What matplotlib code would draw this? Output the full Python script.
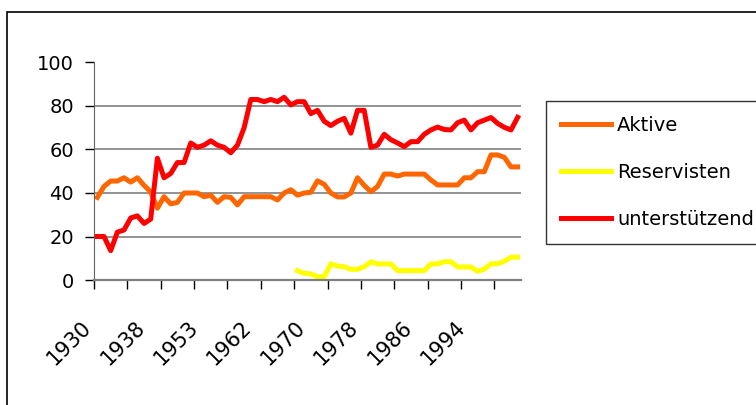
import numpy as np
import matplotlib.pyplot as plt
import matplotlib.transforms as mtransforms
from matplotlib.patches import Rectangle

# Jahre (Kategorien der x-Achse)
jahre = (list(range(1930, 1939)) + list(range(1946, 1953)) + [1953]
         + [1954, 1955, 1956, 1957, 1958, 1959, 1961] + list(range(1962, 2002)))

aktive = [38, 43, 45.5, 45.5, 47, 45, 47, 43.5, 40.5, 33,
          38.3, 35, 35.7, 40, 40, 40, 38.3, 39, 35.7, 38.3,
          38, 34.5, 38.3, 38.3, 38.3, 38.3, 38.3, 36.8, 40, 41.5,
          39, 40, 40.3, 45.6, 44, 40, 38.2, 38.2, 40, 47,
          43.5, 40.6, 43, 48.7, 48.7, 47.8, 48.7, 48.7, 48.7, 48.7,
          46, 43.7, 43.7, 43.7, 43.7, 47, 47, 49.8, 49.8, 57.5,
          57.5, 56.4, 52, 52]

reservisten = [np.nan] * 30 + [
    4.3, 3.1, 2.8, 1.5, 1.5, 7.4, 6.4, 6.1, 4.9, 4.9,
    6.1, 8.4, 7.4, 7.4, 7.4, 4.3, 4.3, 4.3, 4.3, 4.3,
    7.4, 7.4, 8.4, 8.4, 6, 6, 6, 4, 5, 7.4,
    7.5, 8.6, 10.5, 10.5]

unterstuetzend = [20, 20, 13.5, 22, 23, 28.5, 29.5, 26, 28, 56,
                  47, 49, 54, 54, 63, 61, 62, 64, 62, 61,
                  58.5, 62, 70, 83, 83, 82, 83, 82, 84, 80.5,
                  82, 82, 76.5, 78, 73, 71, 73, 74.3, 67.5, 78,
                  78, 61, 62, 67, 64.5, 63, 61.3, 63.6, 63.6, 67,
                  69, 70.3, 69.2, 69, 72.3, 73.5, 69, 72.3, 73.5, 74.7,
                  72, 70.2, 69, 74.8]

fig = plt.figure(figsize=(7.56, 4.05), dpi=100)
ax = fig.add_axes([94/756, 1 - 280/405, 427/756, 217.5/405])

x = np.arange(len(jahre))
lw = 3.6
ax.plot(x, aktive, color='#FF6600', lw=lw, label='Aktive', solid_joinstyle='round')
ax.plot(x, reservisten, color='#FFFF00', lw=lw, label='Reservisten', solid_joinstyle='round')
ax.plot(x, unterstuetzend, color='#FF0000', lw=lw, label='unterstützend', solid_joinstyle='round')

ax.set_xlim(-0.5, len(jahre) - 0.5)
ax.set_ylim(0, 100)
ax.set_yticks(range(0, 101, 20))
ax.tick_params(axis='y', labelsize=14, length=6.5, width=1, colors='black', pad=8)
ax.yaxis.grid(True, color='#808080', lw=1.2)
ax.get_ygridlines()[-1].set_visible(False)
ax.set_axisbelow(True)

lab_pos = np.arange(0, len(jahre), 8)
ax.set_xticks(lab_pos)
ax.set_xticklabels([str(jahre[i]) for i in lab_pos], rotation=45, ha='right',
                   va='center', rotation_mode='anchor', fontsize=15)
ax.tick_params(axis='x', which='major', length=0, pad=32)
# Beschriftungen etwas nach links versetzen
shift = mtransforms.ScaledTranslation(-9/100, 0, fig.dpi_scale_trans)
for t in ax.get_xticklabels():
    t.set_transform(t.get_transform() + shift)
ax.set_xticks(np.arange(-0.5, len(jahre), 5), minor=True)
ax.tick_params(axis='x', which='minor', length=6.5, width=1, color='black')

for s in ['top', 'right']:
    ax.spines[s].set_visible(False)
ax.spines['left'].set_color('#606060')
ax.spines['bottom'].set_color('#808080')
ax.spines['bottom'].set_linewidth(1.6)

leg = fig.legend(loc='upper left', bbox_to_anchor=(546/756, 1 - 101/405),
                 fontsize=14, handlelength=2.6, labelspacing=1.45,
                 borderaxespad=0, fancybox=False, edgecolor='black',
                 handletextpad=0.3, borderpad=0.75)
leg.get_frame().set_linewidth(1)

# Rahmen um das Diagramm
fig.patches.append(Rectangle((7/756, -0.05), 1.1, 1 - 12/405 + 0.05,
                             transform=fig.transFigure, fill=False,
                             edgecolor='black', lw=1.2))

fig.savefig('out.png', dpi=100)
